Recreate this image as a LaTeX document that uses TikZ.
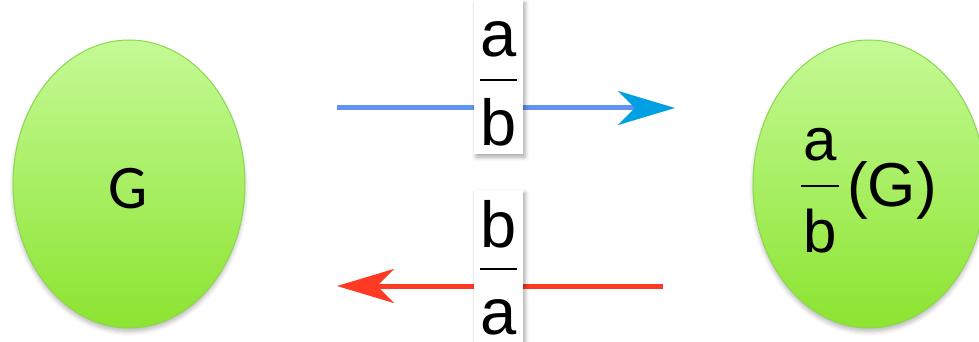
\documentclass[tikz,border=0pt]{standalone}
\usepackage{fontspec}
\setmainfont{Liberation Sans}
\newfontfamily\calfont{Carlito}
\usetikzlibrary{arrows.meta,shadows.blur,shapes.geometric}
\definecolor{blobtop}{RGB}{196,250,150}
\definecolor{blobbot}{RGB}{140,228,48}
\definecolor{blobedge}{RGB}{140,214,80}
\definecolor{fwdline}{RGB}{98,146,242}
\definecolor{fwdtip}{RGB}{0,160,226}
\definecolor{backline}{RGB}{255,58,36}
\tikzset{
  blob/.style={ellipse, minimum width=232pt, minimum height=288pt, inner sep=0pt,
    top color=blobtop, bottom color=blobbot, draw=blobedge, line width=1pt,
    blur shadow={shadow xshift=0pt, shadow yshift=-4pt, shadow blur radius=4pt, shadow opacity=25}},
  labelbox/.style={rectangle, fill=white, inner sep=0pt, minimum width=49pt,
    blur shadow={shadow xshift=2pt, shadow yshift=-3pt, shadow blur radius=4pt, shadow opacity=35}},
  bigtxt/.style={inner sep=0pt, font=\fontsize{65}{70}\selectfont},
  midtxt/.style={inner sep=0pt, font=\fontsize{60}{66}\selectfont},
  fracrule/.style={line width=1.4pt, black},
  fwd/.style={fwdline, line width=5pt, -{Stealth[length=57pt, width=34pt, inset=17pt, color=fwdtip]}},
  bwd/.style={backline, line width=5pt, -{Stealth[length=57pt, width=34pt, inset=17pt]}},
}
\begin{document}
\begin{tikzpicture}[x=1pt,y=-1pt]
\useasboundingbox (0,0) rectangle (979,342);

% the two graph blobs
\node[blob] (gl) at (129,184) {};
\node[blob] (gr) at (869,184) {};
\node[inner sep=0pt, anchor=base, font=\calfont\fontsize{62}{66}\selectfont] (gltxt) at (128,208) {G};

% a/b (G) inside the right blob
\node[midtxt, anchor=base] (gra) at (820,160) {a};
\node[midtxt, anchor=base] (grb) at (820,252) {b};
\coordinate (grr1) at (801,186);
\coordinate (grr2) at (839,186);
\draw[fracrule] (grr1) -- (grr2);
\node[inner sep=0pt, anchor=base west, font=\fontsize{62}{68}\selectfont] (grg) at (847,206) {(G)};

% forward connector
\coordinate (f1) at (337,108);
\coordinate (f2) at (675,108);
\draw[fwd] (f1) -- (f2);
\node[labelbox, minimum height=154pt] (lab1) at (498.5,77) {};
\node[bigtxt, anchor=base] (lab1a) at (498.5,57) {a};
\node[bigtxt, anchor=base] (lab1b) at (498.5,145) {b};
\coordinate (r1a) at (480,80);
\coordinate (r1b) at (517,80);
\draw[fracrule] (r1a) -- (r1b);

% backward connector
\coordinate (b1) at (663,286);
\coordinate (b2) at (337,286);
\draw[bwd] (b1) -- (b2);
\node[labelbox, minimum height=170pt] (lab2) at (498.5,275) {};
\node[bigtxt, anchor=base] (lab2b) at (498.5,247) {b};
\node[bigtxt, anchor=base] (lab2a) at (498.5,334) {a};
\coordinate (r2a) at (480,269);
\coordinate (r2b) at (517,269);
\draw[fracrule] (r2a) -- (r2b);
\end{tikzpicture}
\end{document}
